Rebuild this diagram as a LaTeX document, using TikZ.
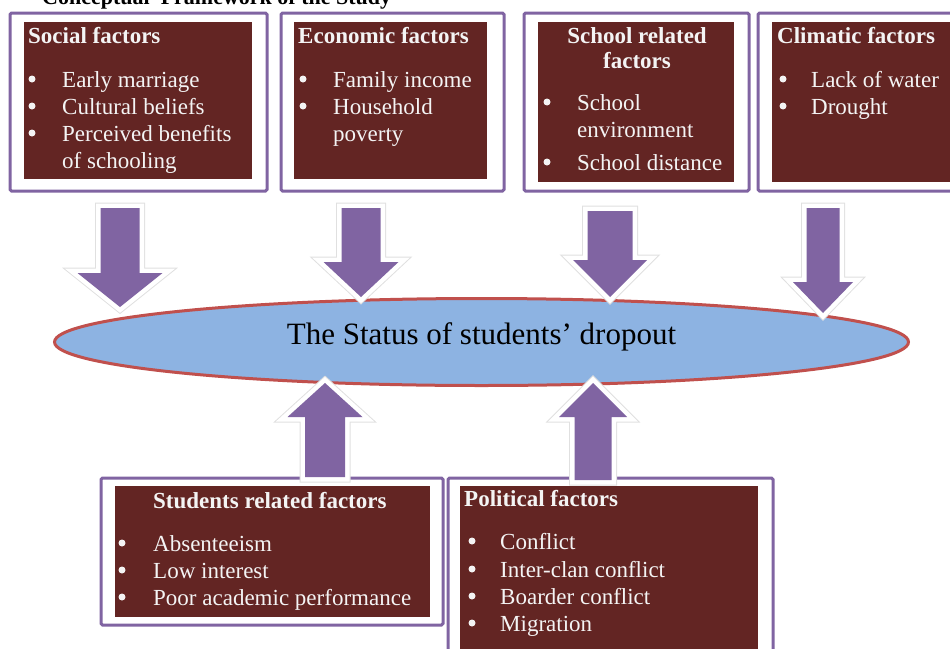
\documentclass[tikz,border=0pt]{standalone}
\usepackage{fontspec}
\setmainfont{Liberation Serif}
\usepackage{xcolor}
\usetikzlibrary{shapes.geometric}
\definecolor{lilac}{HTML}{8064A2}
\definecolor{wine}{HTML}{632523}
\definecolor{sky}{HTML}{8DB3E2}
\definecolor{rim}{HTML}{C0504D}
\definecolor{paper}{HTML}{F4F4F4}
\tikzset{
frame/.style={draw=lilac,line width=3pt,rounded corners=1.5pt},
box/.style={
  rectangle,
  fill=wine,
  anchor=north west,
  inner sep=0pt
},
head/.style={anchor=base west,inner sep=0pt,text=paper,font=\fontsize{23}{27}\selectfont\bfseries},
item/.style={anchor=base west,inner sep=0pt,text=paper,font=\fontsize{23}{27}\selectfont},
dot/.style={circle,fill=paper,inner sep=0pt,minimum size=7pt},
blockarrow/.style={
  fill=lilac,
  line join=miter,
  preaction={draw=black!12,line width=11pt,line join=miter},
  preaction={draw=white,line width=9pt,line join=miter}
},
%status/.style={ellipse,draw=rim},
}

\begin{document}
\begin{tikzpicture}[x=1pt,y=-1pt]
\useasboundingbox (0,0) rectangle (950,648);
\clip (0,0) rectangle (950,648);
\node[anchor=base west,inner sep=0pt,font=\fontsize{22}{26}\selectfont\bfseries] (title) at (42,4) {Conceptual\ \ Framework of the Study};
% the frames
\foreach \a/\b/\c/\d in {10/13/267/191,281/13/504/191,524/13/749/191,758/13/965/191,101/478/443/625,448/478/773/665}
{
  \draw[frame] (\a,\b) rectangle (\c,\d);
}
% the boxes
\node[box,minimum width=228,minimum height=157] (social) at (24,22) {};
\node[box,minimum width=193,minimum height=157] (economic) at (294,22) {};
\node[box,minimum width=196,minimum height=160] (school) at (538,22) {};
\node[box,minimum width=190,minimum height=160] (climatic) at (772,22) {};
\node[box,minimum width=315,minimum height=131] (students) at (115,486) {};
\node[box,minimum width=298,minimum height=170] (political) at (460,486) {};
% the texts
\node[head] (social-h) at (28,43) {Social factors};
\foreach \t/\y [count=\i] in {Early marriage/87,Cultural beliefs/114,Perceived benefits/141,of schooling/168}
  \node[item] (social-\i) at (62,\y) {\t};
\foreach \y [count=\i] in {87,114,141}
  \node[dot] (social-d\i) at (32,\y-8) {};

\node[head] (economic-h) at (298,43) {Economic factors};
\foreach \t/\y [count=\i] in {Family income/87,Household/114,poverty/141}
  \node[item] (economic-\i) at (333,\y) {\t};
\foreach \y [count=\i] in {87,114}
  \node[dot] (economic-d\i) at (303,\y-8) {};

\node[head,anchor=base] (school-h) at (637,43) {School related};
\node[head,anchor=base] (school-h2) at (637,68) {factors};
\foreach \t/\y [count=\i] in {School/110,environment/137,School distance/170}
  \node[item] (school-\i) at (577,\y) {\t};
\foreach \y [count=\i] in {110,170}
  \node[dot] (school-d\i) at (547,\y-8) {};

\node[head] (climatic-h) at (777,43) {Climatic factors};
\foreach \t/\y [count=\i] in {Lack of water/87,Drought/114}
{
  \node[item] (climatic-\i) at (811,\y) {\t};
  \node[dot] (climatic-d\i) at (783,\y-8) {};
}

\node[head] (students-h) at (153,508) {Students related factors};
\foreach \t/\y [count=\i] in {Absenteeism/551,Low interest/578,Poor academic performance/605}
{
  \node[item] (students-\i) at (153,\y) {\t};
  \node[dot] (students-d\i) at (122,\y-8) {};
}

\node[head] (political-h) at (464,506) {Political factors};
\foreach \t/\y [count=\i] in {Conflict/549,Inter-clan conflict/577,Boarder conflict/604,Migration/631}
{
  \node[item] (political-\i) at (500,\y) {\t};
  \node[dot] (political-d\i) at (472,\y-8) {};
}
% the status
\node[ellipse,draw=rim,line width=3pt,fill=sky,minimum width=854,minimum height=87,inner sep=0pt,
  font=\fontsize{31}{36}\selectfont,text height=20pt,text depth=15pt] (status) at (481.5,342) {The Status of students’ dropout};
% the arrows (tip x / tip y / half shaft / half head / head length / length / direction)
\foreach \x/\y/\s/\h/\l/\L/\d in {120/307/19.5/42.5/34/99/1,361/297/19.5/37.5/35/89/1,
  610/297/22.5/37/37/86/1,823/313/16.5/30/31/105/1,325/383/20/37.5/34/94/-1,593/383/18.5/34/34/97/-1}
{
  \fill[blockarrow] (\x,\y) -- ++(-\h,-\d*\l) -- ++(\h-\s,0) -- ++(0,-\d*\L+\d*\l)
    -- ++(2*\s,0) -- ++(0,\d*\L-\d*\l) -- ++(\h-\s,0) -- cycle;
}
\end{tikzpicture}
\end{document}
